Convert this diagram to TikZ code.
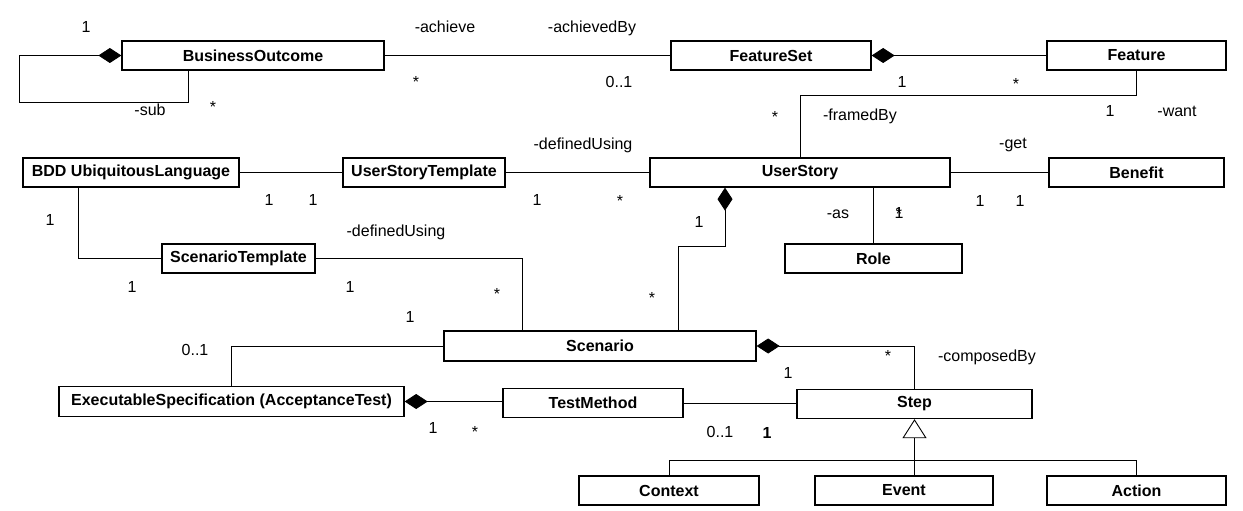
\documentclass[tikz,border=0pt]{standalone}
\usepackage{fontspec}
\setmainfont{Liberation Sans}
\usetikzlibrary{arrows.meta}
\tikzset{cls/.style={draw,line width=1.3pt,minimum height=29pt,inner sep=0pt,
font=\bfseries\fontsize{16}{19}\selectfont},
lbl/.style={anchor=base,inner sep=0pt,font=\fontsize{16}{19}\selectfont},
comp/.style={arrows={Diamond[length=23pt,width=15pt]-}},
inherit/.style={arrows={Triangle[open,length=19pt,width=24pt]-}}}

\begin{document}
\begin{tikzpicture}[x=1pt,y=-1pt,line width=0.9pt]
\useasboundingbox (0,0) rectangle (1243,511);
% classes
\node[cls,minimum width=262pt] (bo) at (253,55.5) {BusinessOutcome};
\node[cls,minimum width=200pt] (fs) at (771,55.5) {FeatureSet};
\node[cls,minimum width=179pt] (feat) at (1136.5,55.5) {Feature};
\node[cls,minimum width=216pt] (bdd) at (131,172.5) {BDD UbiquitousLanguage};
\node[cls,minimum width=162pt] (ust) at (424,172.5) {UserStoryTemplate};
\node[cls,minimum width=300pt] (us) at (800,172.5) {UserStory};
\node[cls,minimum width=175pt] (ben) at (1136.5,172.5) {Benefit};
\node[cls,minimum width=153pt] (sct) at (238.5,258.5) {ScenarioTemplate};
\node[cls,minimum width=177pt] (role) at (873.5,258.5) {Role};
\node[cls,minimum width=312pt,minimum height=30pt] (sc) at (600,346) {Scenario};
\node[cls,minimum width=345pt,minimum height=30pt] (es) at (231.5,401.5) {ExecutableSpecification (AcceptanceTest)};
\node[cls,minimum width=180pt] (tm) at (593,403) {TestMethod};
\node[cls,minimum width=235pt] (step) at (914.5,404) {Step};
\node[cls,minimum width=180pt] (ctx) at (669,490.5) {Context};
\node[cls,minimum width=178pt] (ev) at (904,490.5) {Event};
\node[cls,minimum width=179pt] (act) at (1136.5,490.5) {Action};

% associations
\draw[comp] (bo.west) -- ++(-102,0) -- ++(0,47) -| ([xshift=-65pt]bo.south);
\draw (bo.east) -- (fs.west);
\draw[comp] (fs.east) -- (feat.west);
\draw (feat.south) -- ++(0,25) -| (us.north);
\draw (bdd.east) -- (ust.west);
\draw (ust.east) -- (us.west);
\draw (us.east) -- (ben.west);
\draw (role.north) -- (role.north |- us.south);
\draw ([xshift=-53pt]bdd.south) |- (sct.west);
\draw (sct.east) -| ([xshift=-78pt]sc.north);
\draw[comp] ([xshift=-75pt]us.south) -- ++(0,59) -| ([xshift=78pt]sc.north);
\draw (sc.west) -| (es.north);
\draw[comp] (es.east) -- (es.east -| tm.west);
\draw (tm.east) -- (tm.east -| step.west);
\draw[comp] (sc.east) -| (step.north);
\draw[inherit] (step.south) -- ++(0,41) coordinate (J);
\draw (ctx.north) |- (J) -| (act.north);
\draw (J) -- (J |- ev.north);

% multiplicities and roles
\foreach \x/\y/\t [count=\i] in {86/33/1, 445/33/-achieve, 592/33/-achievedBy,
213/113/*, 150/115/-sub, 416/88/*, 619/88/0..1, 902/88/1, 1016/89/*,
1110/117/1, 1177/117/-want, 775/122/*, 860/121/-framedBy, 583/149/-definedUsing,
1013/148/-get, 269/205/1, 313/205/1, 537/205/1, 620/206/*, 838/218/-as,
899/218/1, 899/219/*, 980/206/1, 1020/206/1, 50/225/1, 396/236/-definedUsing,
699/227/1, 132/292/1, 350/292/1, 497/299/*, 652/303/*, 410/322/1, 195/355/0..1,
888/361/*, 987/361/-composedBy, 788/378/1, 433/433/1, 475/437/*, 720/437/0..1}
\node[lbl] (m\i) at (\x,\y) {\t};
\node[lbl,font=\bfseries\fontsize{16}{19}\selectfont] (mstep) at (767,438) {1};
\end{tikzpicture}
\end{document}
